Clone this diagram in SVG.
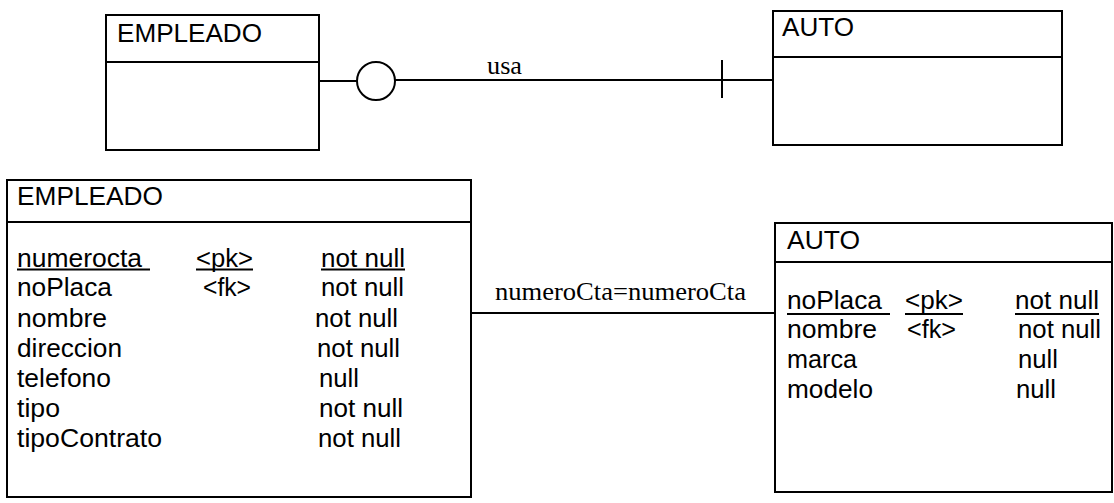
<svg xmlns="http://www.w3.org/2000/svg" width="1114" height="503" viewBox="0 0 1114 503">
<style>
.box{fill:#fff;stroke:#000;stroke-width:2}
.ln{stroke:#000;stroke-width:2;fill:none}
.t{font-family:"Liberation Sans",Arial,sans-serif;font-size:25px;fill:#000}
.s{font-family:"Liberation Serif","Times New Roman",serif;font-size:25px;fill:#000}
</style>
<rect width="1114" height="503" fill="#fff"/>
<g id="connectors">
<line class="ln" x1="319" y1="81" x2="357" y2="81"/>
<circle class="ln" cx="376" cy="81" r="19"/>
<line class="ln" x1="395" y1="80" x2="773" y2="80"/>
<line class="ln" x1="722" y1="60" x2="722" y2="98"/>
<text class="s" x="487" y="74" textLength="35" lengthAdjust="spacingAndGlyphs">usa</text>
<line class="ln" x1="471" y1="313" x2="775" y2="313"/>
<text class="s" x="495" y="300" textLength="251" lengthAdjust="spacingAndGlyphs">numeroCta=numeroCta</text>
</g>
<g id="empleado-top">
<rect class="box" x="106" y="15" width="213" height="135"/>
<line class="ln" x1="106" y1="62" x2="319" y2="62"/>
<text class="t" x="117" y="42" textLength="145" lengthAdjust="spacingAndGlyphs">EMPLEADO</text>
</g>
<g id="auto-top">
<rect class="box" x="773" y="11" width="289" height="134"/>
<line class="ln" x1="773" y1="57" x2="1062" y2="57"/>
<text class="t" x="782" y="36" textLength="72" lengthAdjust="spacingAndGlyphs">AUTO</text>
</g>
<g id="empleado">
<rect class="box" x="7" y="180" width="464" height="317"/>
<line class="ln" x1="7" y1="222" x2="471" y2="222"/>
<text class="t" x="17" y="205" textLength="146" lengthAdjust="spacingAndGlyphs">EMPLEADO</text>
<text class="t" x="17" y="267" textLength="125" lengthAdjust="spacingAndGlyphs">numerocta</text>
<line class="ln" x1="17" y1="269.5" x2="150" y2="269.5" stroke-width="1.5"/>
<text class="t" x="196" y="267" textLength="57" lengthAdjust="spacingAndGlyphs">&lt;pk&gt;</text>
<line class="ln" x1="196" y1="269.5" x2="253" y2="269.5" stroke-width="1.5"/>
<text class="t" x="321" y="267" textLength="84" lengthAdjust="spacingAndGlyphs">not null</text>
<line class="ln" x1="321" y1="269.5" x2="405" y2="269.5" stroke-width="1.5"/>
<text class="t" x="17" y="296" textLength="95" lengthAdjust="spacingAndGlyphs">noPlaca</text>
<text class="t" x="203" y="296" textLength="48" lengthAdjust="spacingAndGlyphs">&lt;fk&gt;</text>
<text class="t" x="321" y="296" textLength="83" lengthAdjust="spacingAndGlyphs">not null</text>
<text class="t" x="17" y="327" textLength="90" lengthAdjust="spacingAndGlyphs">nombre</text>
<text class="t" x="315" y="327" textLength="83" lengthAdjust="spacingAndGlyphs">not null</text>
<text class="t" x="17" y="357" textLength="105" lengthAdjust="spacingAndGlyphs">direccion</text>
<text class="t" x="317" y="357" textLength="83" lengthAdjust="spacingAndGlyphs">not null</text>
<text class="t" x="17" y="387" textLength="94" lengthAdjust="spacingAndGlyphs">telefono</text>
<text class="t" x="319" y="387" textLength="40" lengthAdjust="spacingAndGlyphs">null</text>
<text class="t" x="17" y="417" textLength="43" lengthAdjust="spacingAndGlyphs">tipo</text>
<text class="t" x="319" y="417" textLength="84" lengthAdjust="spacingAndGlyphs">not null</text>
<text class="t" x="17" y="447" textLength="145" lengthAdjust="spacingAndGlyphs">tipoContrato</text>
<text class="t" x="318" y="447" textLength="83" lengthAdjust="spacingAndGlyphs">not null</text>
</g>
<g id="auto">
<rect class="box" x="775" y="223" width="337" height="269"/>
<line class="ln" x1="775" y1="262" x2="1112" y2="262"/>
<text class="t" x="787" y="249" textLength="73" lengthAdjust="spacingAndGlyphs">AUTO</text>
<text class="t" x="787" y="309" textLength="95" lengthAdjust="spacingAndGlyphs">noPlaca</text>
<line class="ln" x1="787" y1="314" x2="890" y2="314" stroke-width="1.5"/>
<text class="t" x="905" y="309" textLength="58" lengthAdjust="spacingAndGlyphs">&lt;pk&gt;</text>
<line class="ln" x1="905" y1="314" x2="963" y2="314" stroke-width="1.5"/>
<text class="t" x="1015" y="309" textLength="84" lengthAdjust="spacingAndGlyphs">not null</text>
<line class="ln" x1="1015" y1="314" x2="1099" y2="314" stroke-width="1.5"/>
<text class="t" x="787" y="338" textLength="90" lengthAdjust="spacingAndGlyphs">nombre</text>
<text class="t" x="907" y="338" textLength="49" lengthAdjust="spacingAndGlyphs">&lt;fk&gt;</text>
<text class="t" x="1018" y="338" textLength="83" lengthAdjust="spacingAndGlyphs">not null</text>
<text class="t" x="787" y="368" textLength="70" lengthAdjust="spacingAndGlyphs">marca</text>
<text class="t" x="1018" y="368" textLength="40" lengthAdjust="spacingAndGlyphs">null</text>
<text class="t" x="787" y="398" textLength="86" lengthAdjust="spacingAndGlyphs">modelo</text>
<text class="t" x="1016" y="398" textLength="40" lengthAdjust="spacingAndGlyphs">null</text>
</g>
</svg>
